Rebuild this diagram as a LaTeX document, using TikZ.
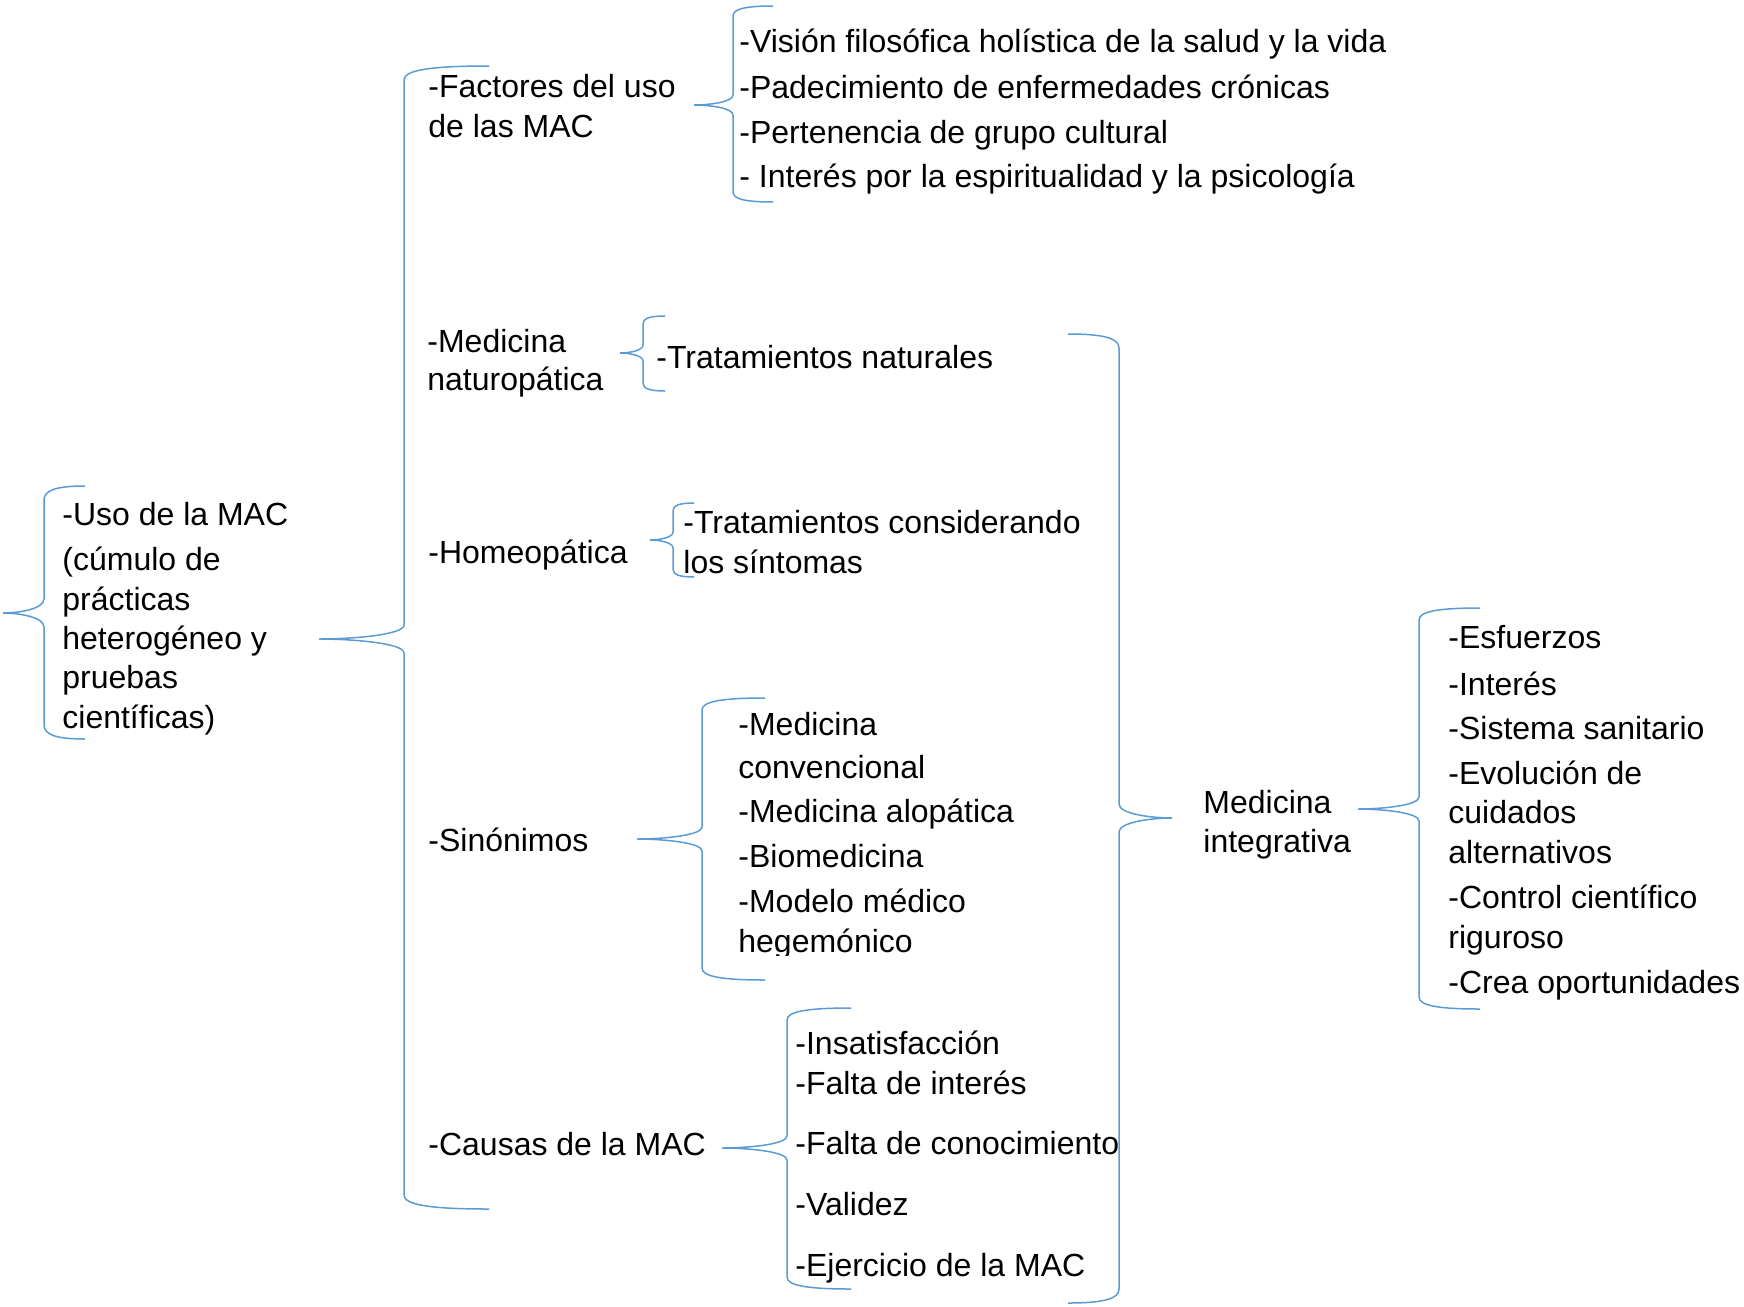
\documentclass[tikz,border=0pt]{standalone}
\usepackage{fontspec}
\setmainfont{Liberation Sans}
\definecolor{bracecol}{HTML}{5B9BD5}
% #1 tip x, #2 tip y, #3 vertical x, #4 end x, #5 top y, #6 bottom y, #7 corner size
\newcommand\mybrace[7]{%
  \draw[brc] (#4,#5) .. controls ({#3+0.3*(#4-#3)},#5) and (#3,{#5+0.3*#7}) .. (#3,{#5+#7})
    -- (#3,{#2-#7}) .. controls (#3,{#2-0.3*#7}) and ({#3+0.6*(#1-#3)},#2) .. (#1,#2)
    .. controls ({#3+0.6*(#1-#3)},#2) and (#3,{#2+0.3*#7}) .. (#3,{#2+#7})
    -- (#3,{#6-#7}) .. controls (#3,{#6-0.3*#7}) and ({#3+0.3*(#4-#3)},#6) .. (#4,#6);}
\begin{document}
\begin{tikzpicture}[x=0.5pt,y=-0.5pt,
  txt/.style={anchor=base west, inner sep=0pt, font=\fontsize{16pt}{20pt}\selectfont},
  brc/.style={draw=bracecol, line width=0.75pt}]
\useasboundingbox (0,0) rectangle (1744,1306);

% braces
\mybrace{3}{613}{44}{85}{486}{739}{14}
\mybrace{319}{639}{404}{489}{66}{1209}{14}
\mybrace{694}{105}{733}{773}{6}{202}{10}
\mybrace{620}{353}{643}{665}{316}{391}{8}
\mybrace{650}{540}{673}{694}{503}{577}{8}
\mybrace{637}{839}{702}{765}{698}{980}{12}
\mybrace{722}{1148}{787}{851}{1008}{1289}{12}
\mybrace{1172}{818}{1119}{1068}{334}{1303}{14}
\mybrace{1358}{809}{1419}{1480}{608}{1009}{12}

% root
\node[txt] (uso1) at (62,525) {-Uso de la MAC};
\node[txt] (uso2) at (62,570) {(cúmulo de};
\node[txt] (uso3) at (62,610) {prácticas};
\node[txt] (uso4) at (62,649) {heterogéneo y};
\node[txt] (uso5) at (62,688) {pruebas};
\node[txt] (uso6) at (62,728) {científicas)};

% factores
\node[txt] (fac1) at (428,97) {-Factores del uso};
\node[txt] (fac2) at (428,137) {de las MAC};
\node[txt] (vis) at (739,52) {-Visión filosófica holística de la salud y la vida};
\node[txt] (pad) at (739,98) {-Padecimiento de enfermedades crónicas};
\node[txt] (per) at (739,143) {-Pertenencia de grupo cultural};
\node[txt] (int) at (739,187) {- Interés por la espiritualidad y la psicología};

% naturopatica
\node[txt] (nat1) at (427,352) {-Medicina};
\node[txt] (nat2) at (427,390) {naturopática};
\node[txt] (tnat) at (656,368) {-Tratamientos naturales};

% homeopatica
\node[txt] (hom) at (428,563) {-Homeopática};
\node[txt] (tcs1) at (683,533) {-Tratamientos considerando};
\node[txt] (tcs2) at (683,573) {los síntomas};

% sinonimos
\node[txt] (sin) at (428,851) {-Sinónimos};
\node[txt] (conv1) at (738,735) {-Medicina};
\node[txt] (conv2) at (738,778) {convencional};
\node[txt] (alo) at (738,822) {-Medicina alopática};
\node[txt] (bio) at (738,867) {-Biomedicina};
\node[txt] (mod1) at (738,912) {-Modelo médico};
\begin{scope}
\clip (700,920) rectangle (1000,955);
\node[txt] (mod2) at (738,952) {hegemónico};
\end{scope}

% causas
\node[txt] (cau) at (428,1155) {-Causas de la MAC};
\node[txt] (ins) at (795,1054) {-Insatisfacción};
\node[txt] (fal) at (795,1094) {-Falta de interés};
\node[txt] (con) at (795,1154) {-Falta de conocimiento};
\node[txt] (val) at (795,1215) {-Validez};
\node[txt] (eje) at (795,1276) {-Ejercicio de la MAC};

% medicina integrativa
\node[txt] (mi1) at (1203,813) {Medicina};
\node[txt] (mi2) at (1203,852) {integrativa};
\node[txt] (esf) at (1448,648) {-Esfuerzos};
\node[txt] (inte) at (1448,695) {-Interés};
\node[txt] (sis) at (1448,739) {-Sistema sanitario};
\node[txt] (evo1) at (1448,784) {-Evolución de};
\node[txt] (evo2) at (1448,823) {cuidados};
\node[txt] (evo3) at (1448,863) {alternativos};
\node[txt] (ctl1) at (1448,908) {-Control científico};
\node[txt] (ctl2) at (1448,948) {riguroso};
\node[txt] (crea) at (1448,993) {-Crea oportunidades};
\end{tikzpicture}
\end{document}
